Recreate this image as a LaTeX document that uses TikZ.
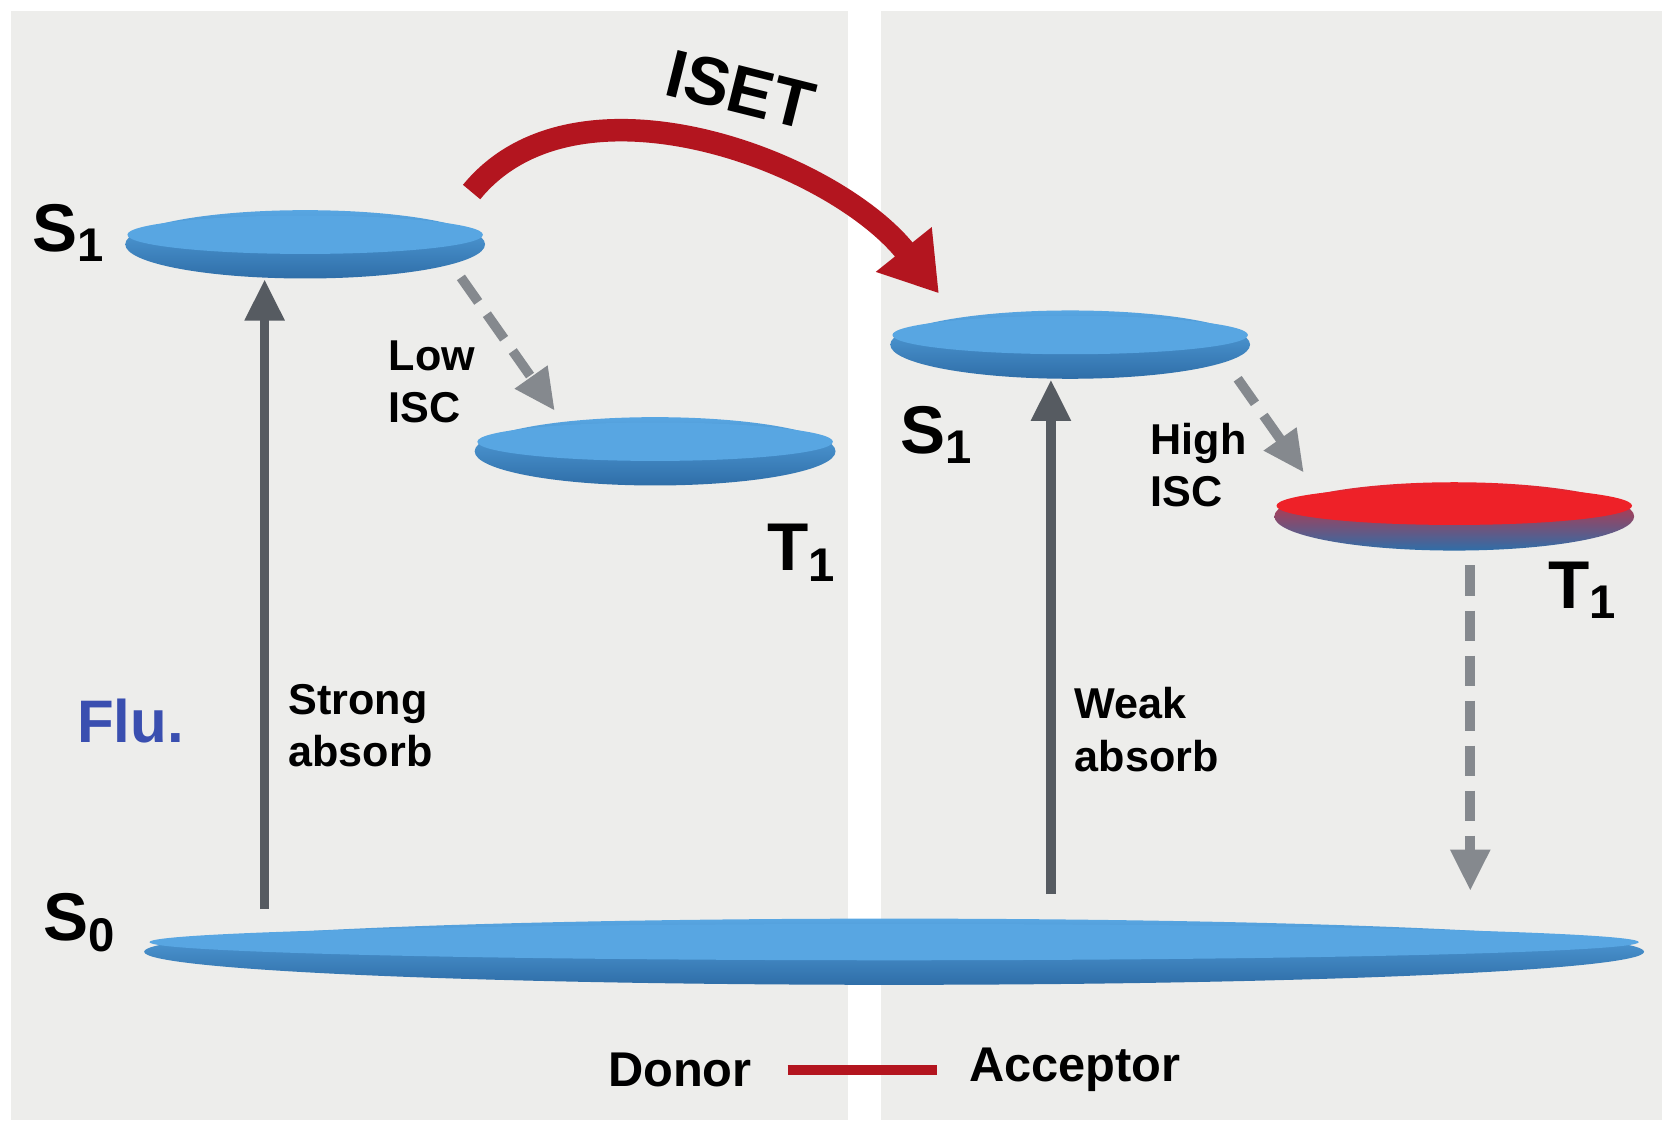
\documentclass[tikz,border=0pt]{standalone}
\usepackage{fontspec}
\setmainfont{Liberation Sans}
\usetikzlibrary{shapes.geometric,arrows.meta,positioning}
\definecolor{panel}{HTML}{EDEDEB}
\definecolor{discblue}{HTML}{58A6E2}
\definecolor{discdark}{HTML}{2F6EA8}
\definecolor{arrgray}{HTML}{565B61}
\definecolor{dashgray}{HTML}{85898E}
\definecolor{isetred}{HTML}{B3151F}
\definecolor{tred}{HTML}{EE2128}
\definecolor{flublue}{HTML}{3A4FB0}
\begin{document}
\begin{tikzpicture}[x=0.01cm,y=-0.01cm,
  disc/.style={ellipse, minimum height=0.64cm, inner sep=0pt, top color=discblue, bottom color=discdark, draw=none},
  face/.style={ellipse, minimum height=0.36cm, inner sep=0pt, fill=discblue, draw=none},
  lvl/.style={font=\bfseries\fontsize{18}{18}\selectfont},
  txt/.style={font=\bfseries\fontsize{11.5}{14}\selectfont, align=left, anchor=west},
  absorb/.style={arrgray, line width=2.6pt, -{Triangle[length=11pt,width=10pt]}},
  isc/.style={dashgray, line width=2.6pt, dash pattern=on 8pt off 4pt, -{Triangle[length=11pt,width=10pt]}},
]
\useasboundingbox (0,0) rectangle (1568,1058);
% panels
\fill[panel] (10,10) rectangle (795,1050);
\fill[panel] (826,10) rectangle (1558,1050);

% levels
\node (s0)  [disc, minimum width=14.05cm, minimum height=0.62cm] at (838,892) {};
\node (s0f) [face, minimum width=13.95cm, minimum height=0.34cm] at (838,883) {};
\node (s1d) [disc, minimum width=3.37cm] at (286,229) {};
\node (s1df)[face, minimum width=3.33cm] at (286,220) {};
\node (t1d) [disc, minimum width=3.38cm] at (614,423) {};
\node (t1df)[face, minimum width=3.33cm] at (614,414) {};
\node (s1a) [disc, minimum width=3.37cm] at (1003,323) {};
\node (s1af)[face, minimum width=3.33cm] at (1003,314) {};
\node (t1a) [disc, minimum width=3.37cm, top color=tred, bottom color=discdark] at (1363,484) {};
\node (t1af)[face, minimum width=3.33cm, fill=tred] at (1363,474) {};

% level labels
\node[lvl] at (65,218) {S\textsubscript{1}};
\node[lvl] at (752,518) {T\textsubscript{1}};
\node[lvl] at (878,408) {S\textsubscript{1}};
\node[lvl] at (1484,553) {T\textsubscript{1}};
\node[lvl] at (75,865) {S\textsubscript{0}};

% absorption
\coordinate (a1) at (248,852);
\coordinate (a2) at (985,838);
\draw[absorb] (a1) -- (s1d.south -| a1);
\draw[absorb] (a2) -- (s1a.south -| a2);
\node[txt] at (258,680) {Strong\\absorb};
\node[txt] at (995,684) {Weak\\absorb};
\node[txt, text=flublue, font=\bfseries\fontsize{16}{16}\selectfont] at (60,676) {Flu.};

% ISC
\coordinate (l1) at (432,260);
\coordinate (l2) at (520,385);
\coordinate (h1) at (1160,355);
\coordinate (h2) at (1222,443);
\coordinate (e0) at (1378,530);
\coordinate (e1) at (1378,835);
\draw[isc] (l1) -- (l2);
\draw[isc] (h1) -- (h2);
\draw[isc] (e0) -- (e1);
\node[txt] at (352,358) {Low\\ISC};
\node[txt] at (1066,436) {High\\ISC};

% ISET
\coordinate (is0) at (442,180);
\coordinate (is1) at (880,275);
\draw[isetred, line width=6pt, -{Triangle[length=15pt,width=18pt]}]
  (is0) .. controls (540,60) and (780,150) .. (is1);
\node[font=\bfseries\fontsize{18}{18}\selectfont, rotate=-14] at (694,84) {ISET};

% legend
\node (don) [txt, anchor=east, font=\bfseries\fontsize{13}{13}\selectfont] at (717,1003) {Donor};
\node (acc) [txt, font=\bfseries\fontsize{13}{13}\selectfont] at (896,1003) {Acceptor};
\draw[isetred, line width=2.5pt] ([xshift=6pt]don.east) -- ([xshift=-5pt]acc.west);
\end{tikzpicture}
\end{document}
